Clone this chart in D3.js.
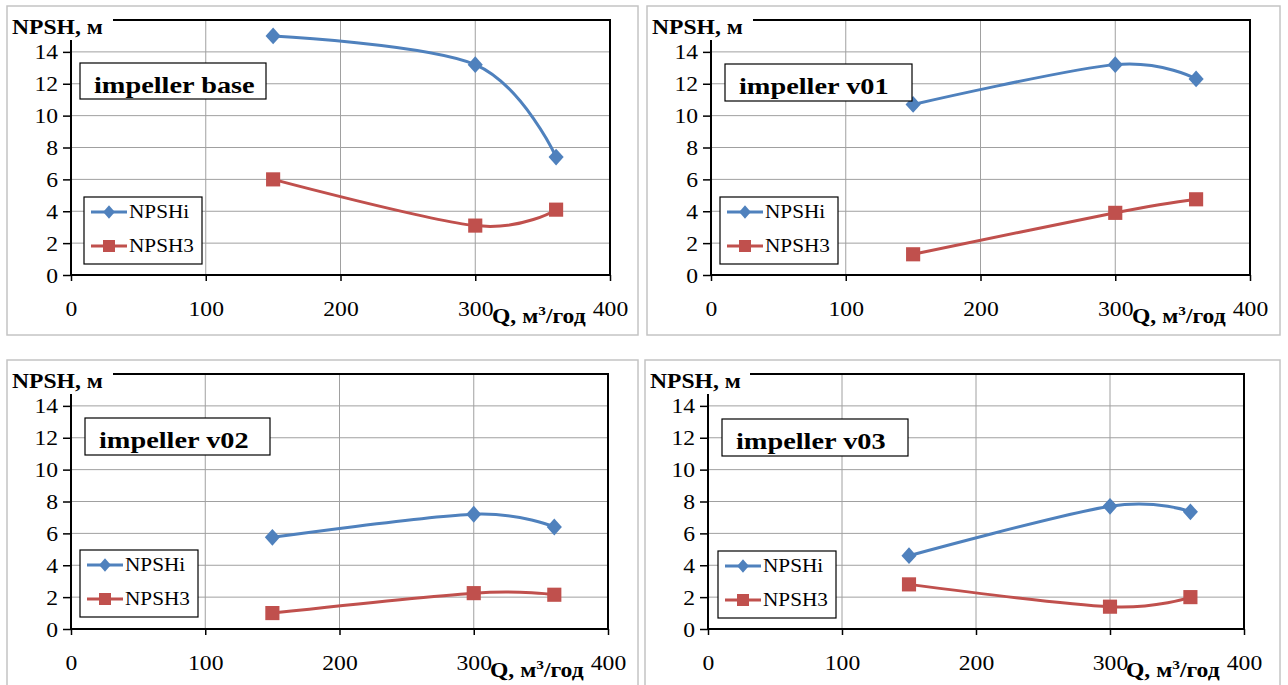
<!DOCTYPE html>
<html>
<head>
<meta charset="utf-8">
<script src="https://cdn.jsdelivr.net/npm/d3@7"></script>
<style>
  body { margin: 0; background: #fff; }
  svg { display: block; }
  svg text { font-family: 'Liberation Serif', 'Times New Roman', serif; }
</style>
</head>
<body>
<div class="chart"></div>
<script>
var qValues = [150, 300, 360];
var titles = ['impeller base', 'impeller v01', 'impeller v02', 'impeller v03'];
var seriesNames = ['NPSHi', 'NPSH3'];
var xTicks = [0, 100, 200, 300, 400];
var yTicks = [0, 2, 4, 6, 8, 10, 12, 14];

// NPSH values (m) per impeller
var npshiBase = [15.0, 13.2, 7.4];
var npsh3Base = [6.0, 3.1, 4.1];
var npshiV01 = [10.7, 13.2, 12.3];
var npsh3V01 = [1.3, 3.9, 4.75];
var npshiV02 = [5.75, 7.2, 6.4];
var npsh3V02 = [1.0, 2.25, 2.15];
var npshiV03 = [4.6, 7.7, 7.35];
var npsh3V03 = [2.8, 1.4, 2.0];

var panelSeries = [
  [npshiBase, npsh3Base],
  [npshiV01, npsh3V01],
  [npshiV02, npsh3V02],
  [npshiV03, npsh3V03]
];

var colors = ['#4F81BD', '#C0504D'];
var SX = 1.18; // the picture's text is a bit wider than plain Times

// layout of each panel: frame, plot area, title box, legend corner
var panels = [
  {frame: [7, 6, 631, 329], plot: [71, 610, 20, 275], title: [80, 63, 186, 36], legend: [84, 197]},
  {frame: [647, 6, 633, 329], plot: [711, 1250, 20, 275], title: [725, 64, 187, 37], legend: [720, 197]},
  {frame: [7, 360, 631, 326], plot: [71, 608, 374, 629], title: [85, 418, 185, 37], legend: [80, 550]},
  {frame: [645, 360, 635, 326], plot: [708, 1244, 374, 629], title: [722, 419, 186, 37], legend: [718, 551]}
];

var svg = d3.select('.chart').append('svg')
  .attr('width', 1288)
  .attr('height', 685);

var diamond = d3.symbol().type(d3.symbolDiamond2).size(180);
var square = d3.symbol().type(d3.symbolSquare).size(200);

function stretchText(sel, tx, ty) {
  return sel.attr('transform', `translate(${tx}, ${ty}) scale(${SX}, 1)`);
}

panels.forEach(function(p, i) {
  var x = d3.scaleLinear().domain([0, 400]).range([p.plot[0], p.plot[1]]);
  var y = d3.scaleLinear().domain([0, 16]).range([p.plot[3], p.plot[2]]);

  var line = d3.line()
    .curve(d3.curveCardinal.tension(0))
    .x(d => x(d.q))
    .y(d => y(d.v));

  var g = svg.append('g');

  // outer frame
  g.append('rect')
    .attr('x', p.frame[0]).attr('y', p.frame[1])
    .attr('width', p.frame[2]).attr('height', p.frame[3])
    .attr('fill', 'none')
    .attr('stroke', '#c4c4c4')
    .attr('stroke-width', 1.5);

  // grid
  g.selectAll('.vgrid')
    .data([100, 200, 300])
    .enter().append('line')
      .attr('x1', d => x(d)).attr('x2', d => x(d))
      .attr('y1', y(16)).attr('y2', y(0))
      .attr('stroke', '#a0a0a0').attr('stroke-width', 1);

  g.selectAll('.hgrid')
    .data(yTicks.slice(1))
    .enter().append('line')
      .attr('x1', x(0)).attr('x2', x(400))
      .attr('y1', d => y(d)).attr('y2', d => y(d))
      .attr('stroke', '#a0a0a0').attr('stroke-width', 1);

  // plot frame
  g.append('rect')
    .attr('x', x(0)).attr('y', y(16))
    .attr('width', x(400) - x(0)).attr('height', y(0) - y(16))
    .attr('fill', 'none')
    .attr('stroke', '#000')
    .attr('stroke-width', 2);

  // axes
  var gY = g.append('g')
    .attr('transform', `translate(${x(0)}, 0)`)
    .call(d3.axisLeft(y).tickValues(yTicks).tickSize(8).tickPadding(4));
  var gX = g.append('g')
    .attr('transform', `translate(0, ${y(0)})`)
    .call(d3.axisBottom(x).tickValues(xTicks).tickSize(6).tickPadding(24));
  [gX, gY].forEach(function(a) {
    a.attr('font-family', null).attr('font-size', null);
    a.select('.domain').remove();
    a.selectAll('line').attr('stroke', '#000').attr('stroke-width', 1.5);
    a.selectAll('text')
      .style('font-size', '20px')
      .attr('fill', '#000');
  });
  gY.selectAll('text')
    .attr('dy', '0.35em')
    .attr('x', -13 / SX)
    .attr('transform', `scale(${SX}, 1)`);
  gX.selectAll('text')
    .attr('dy', '0.55em')
    .attr('transform', `scale(${SX}, 1)`);

  // series
  panelSeries[i].forEach(function(vals, s) {
    var pts = qValues.map((q, k) => ({q: q, v: vals[k]}));
    g.append('path')
      .attr('d', line(pts))
      .attr('fill', 'none')
      .attr('stroke', colors[s])
      .attr('stroke-width', 3);
    g.selectAll('.m' + s)
      .data(pts)
      .enter().append('path')
        .attr('d', s === 0 ? diamond : square)
        .attr('transform', d => `translate(${x(d.q)}, ${y(d.v)})` + (s === 0 ? ' scale(0.9, 1)' : ''))
        .attr('fill', colors[s]);
  });

  // y axis title with white backing
  g.append('rect')
    .attr('x', p.frame[0] + 2).attr('y', p.plot[2] - 12)
    .attr('width', x(0) + 42 - p.frame[0] - 2).attr('height', 32)
    .attr('fill', '#fff');
  stretchText(g.append('text'), p.frame[0] + 5, p.plot[2] + 14)
    .style('font-weight', 'bold')
    .style('font-size', '20px')
    .text('NPSH, м');

  // x axis title
  var qt = stretchText(g.append('text'), x(400) - 118, y(0) + 48)
    .style('font-weight', 'bold')
    .style('font-size', '20px');
  qt.append('tspan').text('Q, м');
  qt.append('tspan').style('font-size', '13px').attr('dy', -8).text('3');
  qt.append('tspan').attr('dy', 8).text('/год');

  // title box
  var tb = p.title;
  g.append('rect')
    .attr('x', tb[0]).attr('y', tb[1])
    .attr('width', tb[2]).attr('height', tb[3])
    .attr('fill', '#fff')
    .attr('stroke', '#000')
    .attr('stroke-width', 1.2);
  stretchText(g.append('text'), tb[0] + 14, tb[1] + 30)
    .style('font-weight', 'bold')
    .style('font-size', '24px')
    .text(titles[i]);

  // legend
  var lg = g.append('g').attr('transform', `translate(${p.legend[0]}, ${p.legend[1]})`);
  lg.append('rect')
    .attr('width', 118).attr('height', 67)
    .attr('fill', '#fff')
    .attr('stroke', '#000')
    .attr('stroke-width', 1.2);
  seriesNames.forEach(function(name, s) {
    var ly = 15 + s * 34;
    lg.append('line')
      .attr('x1', 7).attr('x2', 43)
      .attr('y1', ly).attr('y2', ly)
      .attr('stroke', colors[s]).attr('stroke-width', 3);
    lg.append('path')
      .attr('d', s === 0 ? diamond : square)
      .attr('transform', `translate(25, ${ly}) scale(${s === 0 ? '0.7, 0.8' : '0.85'})`)
      .attr('fill', colors[s]);
    stretchText(lg.append('text'), 45, ly + 6)
      .style('font-size', '18px')
      .text(name);
  });
});
</script>
</body>
</html>
